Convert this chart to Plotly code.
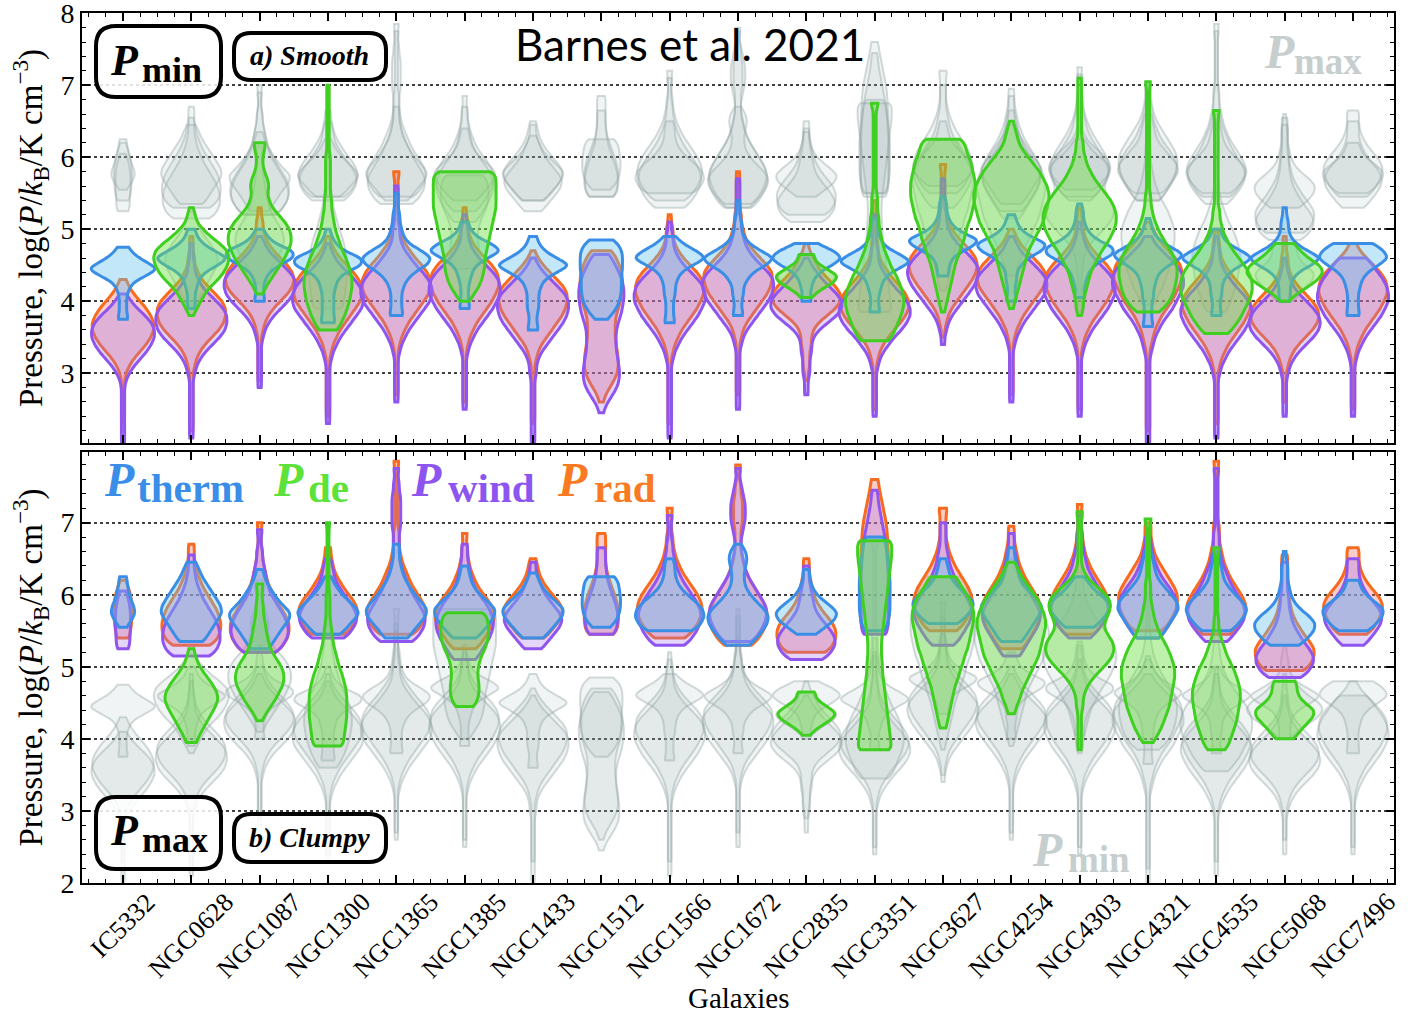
import plotly.graph_objects as go

# ---------------------------------------------------------------------------
# Galaxies and pressure distributions, log(P/kB / K cm^-3).
# Each distribution is a binned histogram: (first bin centre, counts per bin),
# bins 0.1 dex wide.  None = component not available for that galaxy.
# ---------------------------------------------------------------------------
GALAXIES = ["IC5332", "NGC0628", "NGC1087", "NGC1300", "NGC1365", "NGC1385",
            "NGC1433", "NGC1512", "NGC1566", "NGC1672", "NGC2835", "NGC3351",
            "NGC3627", "NGC4254", "NGC4303", "NGC4321", "NGC4535", "NGC5068",
            "NGC7496"]
BIN = 0.1

# ---- P_min (smooth) ----
PMIN_THERM = [
    (3.75, [3, 2, 2, 2, 3, 5, 12, 20, 12, 6, 3]),
    (3.9, [2, 2, 2, 3, 4, 7, 14, 20, 12, 6, 3, 2]),
    (4.0, [3, 2, 2, 3, 5, 10, 18, 18, 8, 4, 2]),
    (3.7, [4, 3, 3, 3, 3, 4, 5, 9, 18, 18, 8, 4, 2, 1]),
    (3.8, [4, 3, 3, 3, 4, 6, 10, 17, 20, 14, 7, 4, 3, 2, 2, 1, 1, 1]),
    (3.9, [3, 2, 2, 2, 3, 4, 6, 12, 20, 14, 6, 3, 2]),
    (3.6, [3, 2, 2, 3, 3, 3, 4, 6, 12, 20, 12, 6, 3, 2]),
    (3.75, [6, 12, 16, 18, 19, 19, 19, 20, 20, 20, 18, 12]),
    (3.7, [3, 2, 2, 2, 3, 3, 4, 6, 12, 20, 14, 7, 3]),
    (3.8, [3, 2, 2, 3, 3, 5, 8, 15, 20, 12, 6, 3, 2, 2, 1, 1, 1]),
    (4.0, [3, 2, 3, 4, 7, 14, 20, 15, 6]),
    (3.85, [3, 2, 2, 3, 4, 6, 12, 20, 13, 6, 3, 2, 2, 1]),
    (4.35, [3, 3, 4, 7, 15, 20, 10, 5, 3, 2, 2, 1]),
    (4.0, [3, 2, 2, 3, 3, 5, 9, 17, 20, 10, 5, 3, 2]),
    (4.05, [3, 2, 3, 4, 6, 10, 18, 18, 9, 5, 3, 2, 2, 1]),
    (3.65, [3, 2, 2, 2, 3, 3, 4, 5, 8, 15, 20, 12, 6, 3, 2, 1]),
    (3.8, [3, 2, 2, 3, 3, 4, 7, 13, 20, 13, 6, 3, 2]),
    (4.0, [3, 3, 3, 4, 7, 14, 20, 12, 6, 3, 2, 2, 1, 1]),
    (3.8, [4, 3, 3, 3, 4, 5, 8, 14, 20, 17, 12]),
]
PMIN_DE = [
    None,
    (3.8, [1, 3, 5, 7, 10, 14, 17, 19, 20, 19, 15, 10, 6, 3, 2, 1]),
    (4.1, [2, 4, 7, 10, 13, 16, 18, 20, 20, 19, 16, 12, 8, 6, 5, 6, 5, 3, 2, 2, 3, 4]),
    (3.6, [8, 11, 14, 16, 18, 19, 20, 20, 19, 17, 15, 12, 10, 8, 6, 5, 4, 3, 3, 2,
           2, 2, 2, 2, 2, 1, 1, 1, 1, 1, 1, 1, 1, 1, 1]),
    None,
    (4.0, [3, 6, 9, 11, 12, 13, 13, 14, 15, 16, 17, 18, 19, 20, 20, 20, 20, 20, 19]),
    None,
    None,
    None,
    None,
    (4.05, [3, 8, 16, 20, 12, 5, 5]),
    (3.45, [10, 13, 15, 17, 19, 20, 20, 19, 17, 15, 12, 10, 8, 6, 5, 4, 3, 3, 2, 2,
            2, 1, 1, 1, 1, 1, 1, 1, 1, 1, 1, 1, 1, 3]),
    (3.85, [1, 2, 3, 4, 5, 6, 7, 8, 10, 11, 13, 14, 15, 17, 18, 19, 20, 20, 20, 19,
            18, 17, 15, 14, 12]),
    (3.9, [1, 2, 3, 4, 5, 6, 7, 8, 9, 11, 13, 15, 17, 18, 19, 20, 20, 19, 17, 15,
           12, 9, 6, 4, 3, 2, 1]),
    (3.8, [1, 2, 2, 3, 4, 5, 6, 8, 10, 12, 15, 17, 19, 20, 20, 19, 17, 14, 11, 8,
           6, 4, 3, 2, 2, 1, 1, 1, 1, 1, 1, 1, 1, 1]),
    (3.85, [8, 13, 16, 18, 19, 20, 20, 19, 17, 14, 11, 8, 6, 4, 3, 2, 2, 1, 1, 1,
            1, 1, 1, 1, 1, 1, 1, 1, 1, 1, 1, 1, 2]),
    (3.55, [7, 10, 13, 15, 17, 19, 20, 20, 19, 17, 14, 11, 8, 6, 4, 3, 2, 2, 1, 1,
            1, 1, 1, 1, 1, 1, 1, 1, 1, 1, 1, 2]),
    (4.0, [2, 6, 12, 17, 20, 18, 12, 8, 5]),
    None,
]
PMIN_WIND = [
    (2.0, [1, 1, 1, 1, 1, 1, 1, 1, 1, 2, 4, 7, 11, 15, 18, 20, 20, 18, 14, 9, 5, 2]),
    (2.1, [1, 1, 1, 1, 1, 1, 1, 1, 1, 2, 3, 5, 8, 12, 16, 19, 20, 20, 18, 14, 10, 6,
           4, 2, 2, 1, 1, 1]),
    (2.8, [1, 1, 1, 1, 1, 1, 1, 2, 3, 5, 8, 12, 16, 19, 20, 20, 17, 13, 9, 5, 3, 1]),
    (2.3, [1, 1, 1, 1, 1, 1, 1, 1, 1, 2, 3, 5, 7, 10, 13, 16, 19, 20, 20, 18, 15, 11,
           7, 4, 2, 1]),
    (2.6, [1, 1, 1, 1, 1, 1, 1, 2, 3, 5, 7, 10, 13, 16, 19, 20, 20, 18, 15, 11, 8, 5,
           3, 2, 2, 1, 1, 1, 1, 1, 1]),
    (2.5, [1, 1, 1, 1, 1, 1, 1, 1, 2, 3, 5, 7, 10, 13, 16, 18, 20, 20, 19, 16, 12, 8,
           5, 3, 2, 2, 1, 1]),
    (2.0, [1, 1, 1, 1, 1, 1, 1, 1, 1, 1, 2, 2, 3, 5, 8, 11, 14, 17, 19, 20, 20, 18,
           14, 10, 6, 3, 1]),
    (2.45, [2, 4, 8, 12, 15, 16, 16, 15, 14, 13, 13, 13, 14, 16, 18, 19, 20, 20, 19,
            17, 14, 11, 7]),
    (2.1, [1, 1, 1, 1, 1, 1, 1, 1, 1, 1, 1, 2, 3, 5, 7, 10, 13, 16, 18, 20, 20, 19,
           16, 12, 8, 5, 3, 2, 2, 1, 1]),
    (2.5, [1, 1, 1, 1, 1, 1, 1, 1, 1, 2, 3, 5, 8, 11, 14, 17, 19, 20, 20, 17, 13, 9,
           6, 4, 3, 2, 2, 1, 1, 1, 1, 1, 1]),
    (2.7, [1, 1, 1, 2, 2, 2, 3, 3, 4, 7, 12, 17, 20, 20, 17, 13, 9, 6, 3, 1]),
    (2.4, [1, 1, 1, 1, 1, 1, 1, 2, 3, 5, 8, 11, 15, 18, 20, 20, 18, 15, 11, 8, 5, 3,
           2, 2, 1, 1, 1, 1, 1]),
    (3.4, [1, 1, 2, 3, 5, 8, 11, 14, 17, 19, 20, 19, 16, 12, 8, 5, 3, 2, 2, 1, 1, 1,
           1, 1]),
    (2.6, [1, 1, 1, 1, 1, 1, 1, 1, 2, 3, 5, 7, 10, 13, 16, 19, 20, 20, 17, 13, 9, 5,
           3, 1]),
    (2.4, [1, 1, 1, 1, 1, 1, 1, 1, 1, 2, 3, 5, 7, 10, 13, 16, 18, 20, 20, 19, 16, 12,
           8, 5, 3, 2, 1, 1]),
    (2.0, [1, 1, 1, 1, 1, 1, 1, 1, 1, 1, 1, 1, 1, 2, 3, 4, 6, 8, 11, 14, 16, 18, 20,
           20, 19, 16, 12, 8, 4, 2]),
    (2.1, [1, 1, 1, 1, 1, 1, 1, 1, 1, 2, 3, 5, 7, 10, 13, 16, 18, 20, 20, 18, 15, 11,
           8, 5, 3, 2, 2, 1, 1]),
    (2.4, [1, 1, 1, 1, 1, 1, 2, 3, 5, 8, 12, 16, 19, 20, 19, 16, 12, 8, 5, 3, 2, 1, 1]),
    (2.4, [1, 1, 1, 1, 1, 1, 1, 1, 2, 3, 5, 7, 10, 13, 16, 18, 20, 20, 19, 17, 14, 11,
           8]),
]
PMIN_RAD = [
    (2.3, [1, 1, 1, 1, 1, 1, 1, 2, 4, 7, 11, 15, 18, 20, 20, 18, 15, 11, 7, 4, 2]),
    (2.2, [1, 1, 1, 1, 1, 1, 1, 1, 1, 2, 3, 5, 8, 12, 16, 19, 20, 20, 18, 14, 10, 6,
           4, 2, 2, 1, 1, 1]),
    (2.9, [1, 1, 1, 1, 1, 1, 1, 2, 3, 5, 8, 12, 16, 19, 20, 19, 16, 12, 8, 5, 3, 2,
           2, 1, 1]),
    (2.4, [1, 1, 1, 1, 1, 1, 1, 1, 1, 2, 3, 5, 7, 10, 13, 16, 19, 20, 20, 18, 15, 11,
           7, 4, 2, 1]),
    (2.7, [1, 1, 1, 1, 1, 1, 1, 2, 3, 5, 7, 10, 13, 16, 19, 20, 20, 18, 15, 11, 8, 5,
           3, 2, 2, 1, 1, 1, 1, 1, 1, 2]),
    (2.6, [1, 1, 1, 1, 1, 1, 1, 1, 2, 3, 5, 7, 10, 13, 16, 18, 20, 20, 19, 16, 12, 8,
           5, 3, 2, 2, 1, 1]),
    (2.3, [1, 1, 1, 1, 1, 1, 1, 1, 1, 2, 3, 5, 8, 11, 14, 17, 19, 20, 20, 18, 14, 10,
           6, 3, 1]),
    (2.6, [2, 4, 8, 12, 15, 16, 16, 15, 14, 13, 13, 13, 14, 16, 18, 19, 20, 20, 19,
           17, 14, 10]),
    (2.3, [1, 1, 1, 1, 1, 1, 1, 1, 1, 1, 2, 3, 5, 7, 10, 13, 16, 18, 20, 20, 19, 16,
           12, 8, 5, 3, 2, 2, 1, 1]),
    (2.7, [1, 1, 1, 1, 1, 1, 1, 1, 2, 3, 5, 8, 11, 14, 17, 19, 20, 20, 17, 13, 9, 6,
           4, 3, 2, 2, 1, 1, 1, 1, 1, 1]),
    (2.9, [1, 1, 2, 2, 2, 3, 3, 4, 7, 12, 17, 20, 20, 17, 13, 9, 6, 4, 2, 1]),
    (2.5, [1, 1, 1, 1, 1, 1, 1, 2, 3, 5, 8, 11, 15, 18, 20, 20, 18, 15, 11, 8, 5, 3,
           2, 2, 1, 1, 1, 1, 1, 1]),
    (3.5, [1, 1, 2, 3, 5, 8, 11, 14, 17, 19, 20, 19, 16, 12, 8, 5, 3, 2, 2, 1, 1, 1,
           1, 1, 2]),
    (2.7, [1, 1, 1, 1, 1, 1, 1, 1, 2, 3, 5, 7, 10, 13, 16, 19, 20, 20, 17, 13, 9, 5,
           3, 1]),
    (2.5, [1, 1, 1, 1, 1, 1, 1, 1, 1, 2, 3, 5, 7, 10, 13, 16, 18, 20, 20, 19, 16, 12,
           8, 5, 3, 2, 2, 1, 1]),
    (2.2, [1, 1, 1, 1, 1, 1, 1, 1, 1, 1, 1, 1, 2, 3, 4, 6, 8, 11, 14, 16, 18, 20, 20,
           19, 16, 12, 8, 5, 3, 1]),
    (2.3, [1, 1, 1, 1, 1, 1, 1, 1, 2, 3, 5, 7, 10, 13, 16, 18, 20, 20, 18, 15, 11, 8,
           5, 3, 2, 2, 1, 1]),
    (2.6, [1, 1, 1, 1, 1, 2, 3, 5, 8, 12, 16, 19, 20, 19, 16, 12, 8, 5, 3, 2, 2, 1,
           1, 1]),
    (2.5, [1, 1, 1, 1, 1, 1, 1, 1, 2, 3, 5, 7, 10, 13, 16, 18, 20, 20, 19, 16, 12, 8,
           4, 2]),
]

# ---- P_max (clumpy) ----
PMAX_THERM = [
    (5.55, [6, 14, 20, 17, 12, 9, 7, 6]),
    (5.35, [8, 11, 14, 17, 20, 19, 16, 13, 10, 7, 5, 3]),
    (5.25, [6, 9, 12, 15, 19, 20, 15, 11, 8, 5, 3, 2]),
    (5.45, [8, 12, 16, 20, 16, 11, 7, 4, 2]),
    (5.4, [8, 11, 15, 19, 20, 16, 12, 9, 6, 4, 3, 2, 2, 2]),
    (5.4, [8, 12, 16, 19, 20, 15, 10, 6, 4, 3, 2]),
    (5.4, [7, 11, 15, 19, 20, 15, 10, 6, 4, 2]),
    (5.55, [10, 16, 19, 20, 20, 19, 18, 15]),
    (5.5, [14, 18, 20, 19, 15, 10, 6, 4, 3, 3, 2]),
    (5.3, [8, 12, 16, 19, 20, 17, 12, 8, 5, 4, 4, 5, 6, 5, 2]),
    (5.45, [6, 12, 18, 20, 15, 9, 5, 3, 2, 2]),
    (5.5, [14, 17, 19, 20, 20, 20, 20, 20, 19, 18, 17, 16, 15, 12]),
    (5.6, [10, 15, 19, 20, 15, 10, 6, 4, 3, 2]),
    (5.35, [7, 10, 13, 16, 19, 20, 16, 11, 7, 5, 4, 3, 2, 2]),
    (5.55, [10, 14, 18, 20, 16, 10, 6, 3]),
    (5.4, [8, 11, 14, 17, 20, 19, 15, 11, 7, 5, 4, 3, 2]),
    (5.5, [10, 14, 18, 20, 17, 12, 8, 5, 4, 3, 2, 2]),
    (5.3, [10, 15, 19, 20, 16, 10, 6, 4, 3, 2, 2, 2, 1, 1]),
    (5.5, [10, 15, 19, 20, 14, 8, 5, 4]),
]
PMAX_DE = [
    None,
    (3.95, [4, 6, 9, 12, 15, 18, 20, 19, 16, 12, 8, 5, 3, 2]),
    (4.25, [2, 5, 9, 13, 16, 19, 20, 19, 16, 12, 9, 7, 6, 5, 4, 3, 3, 2, 2, 3]),
    (3.9, [16, 17, 18, 19, 20, 20, 20, 20, 19, 17, 15, 12, 10, 8, 6, 5, 4, 3, 2, 2,
           2, 2, 1, 1, 1, 1, 1, 1, 1, 1, 1, 2]),
    None,
    (4.45, [8, 11, 12, 12, 11, 11, 12, 14, 17, 19, 20, 20, 19, 17]),
    None,
    None,
    None,
    None,
    (4.05, [2, 7, 15, 20, 13, 6, 6]),
    (3.85, [20, 19, 18, 17, 16, 15, 14, 13, 12, 11, 10, 9, 9, 8, 8, 8, 9, 10, 11, 12,
            13, 14, 15, 16, 17, 18, 19, 20, 20, 20]),
    (4.15, [2, 3, 4, 5, 6, 7, 8, 10, 11, 13, 14, 16, 17, 18, 19, 20, 20, 19, 17, 14,
            11, 9]),
    (4.35, [2, 3, 5, 6, 8, 10, 12, 14, 16, 17, 18, 19, 20, 20, 19, 17, 15, 12, 9, 6,
            4, 2]),
    (3.85, [1, 1, 1, 1, 1, 1, 2, 2, 3, 5, 8, 12, 16, 19, 20, 19, 16, 14, 15, 17, 18,
            17, 13, 8, 4, 2, 1, 1, 1, 1, 1, 1, 1, 2]),
    (3.95, [4, 7, 10, 12, 14, 16, 17, 18, 19, 20, 20, 19, 17, 15, 12, 9, 7, 5, 4, 3,
            2, 2, 2, 1, 1, 1, 1, 1, 1, 1, 1, 3]),
    (3.85, [8, 11, 13, 15, 17, 18, 19, 20, 20, 19, 17, 15, 12, 9, 7, 5, 3, 2, 2, 1,
            1, 1, 1, 1, 1, 1, 1, 1, 3]),
    (4.0, [6, 10, 14, 19, 20, 13, 9, 8, 8]),
    None,
]
PMAX_WIND = [
    (5.25, [16, 18, 19, 20, 20, 20, 18, 14, 8]),
    (5.15, [14, 18, 20, 20, 19, 17, 14, 11, 8, 6, 4, 3, 2, 2, 2]),
    (5.2, [12, 16, 19, 20, 19, 17, 14, 11, 8, 6, 5, 4, 3, 2, 2, 1, 1, 2]),
    (5.4, [12, 16, 19, 20, 18, 15, 11, 8, 5, 4, 3, 2]),
    (5.35, [12, 16, 19, 20, 19, 16, 13, 10, 8, 6, 4, 3, 2, 2, 2, 2, 3, 3, 3, 3, 3, 2,
            2, 1, 2]),
    (5.1, [8, 11, 14, 17, 19, 20, 19, 17, 14, 10, 7, 5, 4, 3, 2, 2, 2]),
    (5.25, [6, 10, 14, 18, 20, 18, 14, 10, 7, 5, 3, 2, 2]),
    (5.45, [16, 19, 20, 20, 18, 15, 12, 9, 7, 6, 5, 5, 5]),
    (5.3, [10, 14, 17, 19, 20, 19, 17, 14, 11, 8, 6, 4, 3, 2, 2, 1, 1, 1, 2]),
    (5.35, [10, 14, 17, 19, 20, 19, 16, 13, 10, 7, 5, 4, 3, 2, 2, 3, 4, 5, 5, 5, 4, 3,
            2, 1, 2]),
    (5.1, [12, 17, 20, 20, 17, 13, 9, 6, 5, 4, 3, 2, 2, 2]),
    (5.45, [18, 19, 20, 20, 20, 20, 20, 20, 20, 19, 19, 18, 17, 16, 14, 12, 10, 8, 6,
            5, 4]),
    (5.3, [8, 12, 15, 18, 20, 20, 18, 15, 12, 9, 7, 5, 4, 3, 2, 2, 2, 2]),
    (5.15, [6, 9, 12, 15, 18, 20, 20, 18, 15, 12, 9, 7, 5, 4, 3, 2, 2, 2]),
    (5.4, [8, 12, 16, 19, 20, 19, 16, 13, 10, 7, 5, 4, 3, 2, 2, 1, 1, 2]),
    (5.4, [8, 12, 15, 18, 20, 20, 18, 15, 11, 8, 6, 4, 3, 2, 2]),
    (5.35, [8, 12, 16, 19, 20, 19, 16, 13, 10, 8, 6, 4, 3, 2, 2, 2, 1, 1, 1, 1, 1, 1,
            1, 1, 2]),
    (4.85, [12, 17, 20, 20, 17, 13, 10, 7, 5, 4, 3, 3, 2, 2, 2, 2, 2]),
    (5.3, [8, 12, 16, 19, 20, 18, 14, 10, 7, 5, 4, 4, 4]),
]
PMAX_RAD = [
    (5.4, [14, 17, 19, 20, 20, 19, 17, 12, 6]),
    (5.3, [14, 18, 20, 20, 19, 17, 14, 11, 8, 6, 4, 3, 2, 2, 2]),
    (5.2, [12, 16, 19, 20, 20, 18, 15, 12, 9, 7, 5, 4, 3, 2, 2, 1, 1, 1, 2]),
    (5.45, [12, 16, 19, 20, 19, 16, 12, 9, 6, 4, 3, 2, 2]),
    (5.45, [12, 16, 19, 20, 19, 16, 13, 10, 8, 6, 4, 3, 2, 2, 2, 1, 1, 1, 1, 1, 1, 1,
            1, 1, 2]),
    (5.25, [8, 12, 15, 18, 20, 20, 18, 15, 11, 8, 6, 4, 3, 2, 2, 1, 2]),
    (5.4, [8, 12, 16, 19, 20, 17, 13, 9, 6, 4, 3, 2]),
    (5.45, [16, 19, 20, 20, 19, 17, 14, 11, 8, 6, 5, 5, 5, 5, 5]),
    (5.4, [10, 14, 17, 19, 20, 19, 17, 14, 11, 8, 6, 4, 3, 2, 2, 1, 1, 1, 2]),
    (5.3, [10, 14, 17, 19, 20, 19, 17, 14, 11, 8, 6, 4, 3, 2, 2, 2, 2, 3, 3, 3, 3, 2,
           2, 1, 1, 2]),
    (5.2, [14, 18, 20, 20, 18, 14, 10, 7, 5, 4, 3, 2, 2, 2]),
    (5.5, [18, 19, 20, 20, 20, 20, 20, 20, 20, 20, 19, 19, 18, 18, 17, 16, 14, 12, 10,
           8, 6, 5]),
    (5.5, [10, 14, 17, 19, 20, 19, 17, 14, 11, 8, 6, 4, 3, 2, 2, 2, 2, 3]),
    (5.25, [8, 11, 14, 17, 19, 20, 20, 18, 15, 12, 9, 7, 5, 4, 3, 2, 2, 2]),
    (5.45, [10, 14, 17, 19, 20, 19, 17, 14, 11, 8, 6, 4, 3, 2, 2, 1, 1, 1, 2]),
    (5.5, [10, 14, 17, 19, 20, 20, 18, 15, 12, 9, 6, 4, 3, 2, 2, 2]),
    (5.45, [10, 14, 17, 19, 20, 18, 15, 12, 9, 7, 5, 4, 3, 2, 2, 2, 1, 1, 1, 1, 1, 1,
            1, 1, 2]),
    (4.95, [14, 18, 20, 20, 17, 13, 10, 7, 5, 4, 3, 3, 2, 2, 2, 2, 2]),
    (5.45, [10, 14, 17, 19, 20, 18, 14, 10, 7, 5, 4, 4, 4]),
]

# ---------------------------------------------------------------------------
# Styling
# ---------------------------------------------------------------------------
SERIF = "Liberation Serif"
W, H = 1417, 1016
ML, MR, MT, MB = 82, 23, 13, 133
PW, PH = W - ML - MR, H - MT - MB
KDE_BW = 0.06

COMP_STYLE = {
    "rad": dict(line="#f86a1e", fill="rgba(240,110,110,0.35)"),
    "wind": dict(line="#9155ef", fill="rgba(165,115,240,0.30)"),
    "therm": dict(line="#3b8ee6", fill="rgba(100,195,240,0.40)"),
    "de": dict(line="#3fcf20", fill="rgba(110,225,70,0.45)"),
}
GREY_LINE = "rgba(150,168,168,0.42)"
GREY_FILL = "rgba(150,168,168,0.13)"

# violin full widths (in units of galaxy spacing)
WIDTH_MIN = {"therm": 0.98, "de": 0.95, "wind": 1.04, "rad": 1.0}
WIDTH_MAX = {"therm": 0.88, "de": 0.8, "wind": 0.84, "rad": 0.86}
WIDTH_MIN_EXTRA = {
    ("therm", 7): 0.62, ("rad", 7): 0.62, ("wind", 7): 0.66,
    ("therm", 0): 0.93, ("rad", 0): 0.9, ("wind", 0): 0.92,
    ("de", 1): 1.1, ("de", 3): 0.7, ("de", 13): 1.1, ("de", 14): 1.07,
    ("de", 15): 0.85, ("de", 16): 1.05, ("de", 17): 1.1, ("de", 11): 0.85,
    ("de", 10): 0.88, ("de", 2): 0.92, ("de", 5): 0.92,
}
WIDTH_MAX_EXTRA = {
    ("therm", 0): 0.34, ("rad", 0): 0.26, ("wind", 0): 0.22,
    ("therm", 7): 0.56, ("rad", 7): 0.5, ("wind", 7): 0.48,
    ("therm", 11): 0.45, ("rad", 11): 0.42, ("wind", 11): 0.4, ("de", 11): 0.5,
    ("therm", 8): 1.0, ("rad", 8): 0.95, ("wind", 8): 0.92,
    ("de", 1): 0.77, ("de", 2): 0.71, ("de", 3): 0.55, ("de", 5): 0.7,
    ("de", 10): 0.83, ("de", 12): 0.9, ("de", 13): 1.0, ("de", 14): 1.0,
    ("de", 15): 0.78, ("de", 16): 0.7, ("de", 17): 0.85,
}

PMIN = {"rad": PMIN_RAD, "wind": PMIN_WIND, "therm": PMIN_THERM, "de": PMIN_DE}
PMAX = {"rad": PMAX_RAD, "wind": PMAX_WIND, "therm": PMAX_THERM, "de": PMAX_DE}
ORDER = ["rad", "wind", "therm", "de"]


def samples(hist):
    """Expand a binned histogram into a list of bin-centre values."""
    start, counts = hist
    out = []
    for k, c in enumerate(counts):
        out.extend([round(start + BIN * k, 3)] * c)
    return out


fig = go.Figure()


def add_set(data, widths, extra, xa, ya, grey):
    for comp in ORDER:
        for i, hist in enumerate(data[comp]):
            if hist is None:
                continue
            vals = samples(hist)
            st = COMP_STYLE[comp]
            fig.add_trace(go.Violin(
                x=[i] * len(vals), y=vals, xaxis=xa, yaxis=ya,
                width=extra.get((comp, i), widths[comp]),
                bandwidth=KDE_BW, spanmode="hard", points=False,
                scalemode="width",
                line=dict(color=GREY_LINE if grey else st["line"],
                          width=2 if grey else 3),
                fillcolor=GREY_FILL if grey else st["fill"],
                hoverinfo="skip", showlegend=False,
                box_visible=False, meanline_visible=False,
            ))


# top panel (smooth): P_max in grey behind, P_min in colour
add_set(PMAX, WIDTH_MAX, WIDTH_MAX_EXTRA, "x2", "y2", True)
add_set(PMIN, WIDTH_MIN, WIDTH_MIN_EXTRA, "x2", "y2", False)
# bottom panel (clumpy): P_min in grey behind, P_max in colour
add_set(PMIN, WIDTH_MIN, WIDTH_MIN_EXTRA, "x", "y", True)
add_set(PMAX, WIDTH_MAX, WIDTH_MAX_EXTRA, "x", "y", False)

TOP_DOM = [(MT + PH - 443) / PH, 1.0]
BOT_DOM = [0.0, (MT + PH - 452) / PH]

xcommon = dict(
    range=[-0.6, len(GALAXIES) - 0.4], tickmode="array",
    tickvals=list(range(len(GALAXIES))), ticktext=GALAXIES,
    ticks="inside", ticklen=8, tickwidth=1.5, tickcolor="black",
    minor=dict(dtick=0.25, ticks="inside", ticklen=4, tickwidth=1.2,
               tickcolor="black", showgrid=False),
    showline=True, linecolor="black", linewidth=2, mirror="ticks",
    showgrid=False, zeroline=False, showticklabels=False, automargin=False,
)
ytitle = dict(text="Pressure, log(<i>P</i>/<i>k</i><sub>B</sub>/K cm<sup>\u22123</sup>)",
              font=dict(family=SERIF, size=33, color="black"), standoff=8)
ycommon = dict(
    dtick=1, tick0=0, ticks="inside", ticklen=8, tickwidth=1.5, tickcolor="black",
    minor=dict(dtick=0.2, ticks="inside", ticklen=4, tickwidth=1.2,
               tickcolor="black", showgrid=False),
    showline=True, linecolor="black", linewidth=2, mirror="ticks",
    showgrid=True, gridcolor="rgba(30,30,30,0.85)", griddash="dot", gridwidth=1.6,
    zeroline=False, tickfont=dict(family=SERIF, size=28, color="black"),
    ticklabeloverflow="allow", automargin=False, title=ytitle,
)

fig.update_layout(
    width=W, height=H,
    margin=dict(l=ML, r=MR, t=MT, b=MB, autoexpand=False),
    paper_bgcolor="white", plot_bgcolor="white",
    violinmode="overlay", violingap=0, violingroupgap=0,
    xaxis=dict(xcommon, anchor="y", domain=[0, 1]),
    xaxis2=dict(xcommon, anchor="y2", domain=[0, 1]),
    yaxis=dict(ycommon, anchor="x", domain=BOT_DOM, range=[2.0, 7.98]),
    yaxis2=dict(ycommon, anchor="x2", domain=TOP_DOM, range=[2.03, 8.004]),
)


def px(x, y):
    return (x - ML) / PW, (MT + PH - y) / PH


def rounded_box(x0, y0, x1, y1, r):
    def P(x, y):
        a, b = px(x, y)
        return f"{a:.5f},{b:.5f}"
    path = (f"M {P(x0 + r, y0)} L {P(x1 - r, y0)} Q {P(x1, y0)} {P(x1, y0 + r)} "
            f"L {P(x1, y1 - r)} Q {P(x1, y1)} {P(x1 - r, y1)} "
            f"L {P(x0 + r, y1)} Q {P(x0, y1)} {P(x0, y1 - r)} "
            f"L {P(x0, y0 + r)} Q {P(x0, y0)} {P(x0 + r, y0)} Z")
    fig.add_shape(type="path", path=path, xref="paper", yref="paper",
                  line=dict(color="black", width=4),
                  fillcolor="rgba(255,255,255,0.85)", layer="above")


def label(text, x, y, size, color="black", family=SERIF, xanchor="center"):
    a, b = px(x, y)
    fig.add_annotation(text=text, x=a, y=b, xref="paper", yref="paper",
                       xanchor=xanchor, yanchor="middle", showarrow=False,
                       font=dict(family=family, size=size, color=color))


def p_label(sub, x, y, color, p_size=48, s_size=41, gap=33, drop=9):
    """Bold italic P with a bold subscript."""
    label("<b><i>P</i></b>", x, y, p_size, color=color, xanchor="left")
    label(f"<b>{sub}</b>", x + gap, y + drop, s_size, color=color, xanchor="left")


# panel boxes
rounded_box(96, 26, 221, 97, 20)
rounded_box(234, 33, 386, 80, 17)
rounded_box(96, 797, 221, 869, 20)
rounded_box(234, 814, 386, 862, 17)
p_label("min", 108, 60, "black", p_size=44, s_size=36, gap=32, drop=10)
label("<b><i>a) Smooth</i></b>", 309, 56, 28)
p_label("max", 108, 830, "black", p_size=44, s_size=36, gap=32, drop=10)
label("<b><i>b) Clumpy</i></b>", 309, 837, 28)

# faint labels for the grey background distributions
p_label("max", 1262, 52, "#c6cece", p_size=48, s_size=37, gap=30, drop=10)
p_label("min", 1030, 849, "#c6cece", p_size=48, s_size=37, gap=36, drop=10)

# component key
p_label("therm", 102, 479, "#3a8ee8", gap=33)
p_label("de", 271, 479, "#5ce23a", gap=35)
p_label("wind", 409, 479, "#8c55f0", gap=37)
p_label("rad", 555, 479, "#f97a22", gap=37)

label("Barnes et al. 2021", 690, 44, 44, family="Lato")
label("Galaxies", 738, 998, 29)

# rotated galaxy names under the bottom axis
for i, name in enumerate(GALAXIES):
    fig.add_annotation(text=name, x=i, xref="x", y=px(0, 885)[1], yref="paper",
                       xanchor="center", yanchor="top", textangle=-45,
                       showarrow=False,
                       font=dict(family=SERIF, size=26, color="black"))

fig.write_html("out.html")
